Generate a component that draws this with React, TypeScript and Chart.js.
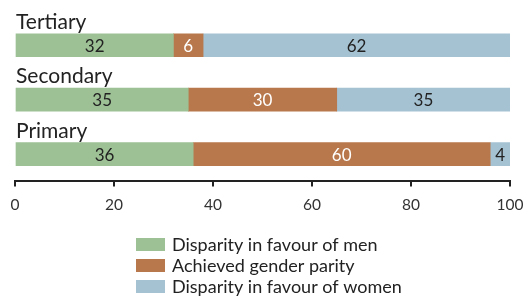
import React, { useEffect, useRef } from "react";
import { Chart, registerables } from "chart.js";

Chart.register(...registerables);

const categories = ["Tertiary", "Secondary", "Primary"];
const favourMen = [32, 35, 36];
const parity = [6, 30, 60];
const favourWomen = [62, 35, 4];
const seriesNames = [
  "Disparity in favour of men",
  "Achieved gender parity",
  "Disparity in favour of women",
];
const colors = ["#9dc095", "#b8784b", "#a5c2d3"];
const labelColors = ["#222222", "#ffffff", "#222222"];
const xTicks = [0, 20, 40, 60, 80, 100];

const FONT = "Lato, 'Noto Sans', sans-serif";

const labelsPlugin = {
  id: "customLabels",
  afterDatasetsDraw(chart: any) {
    const ctx = chart.ctx;
    ctx.save();
    const meta0 = chart.getDatasetMeta(0);
    ctx.font = `21px ${FONT}`;
    ctx.fillStyle = "#222222";
    ctx.textAlign = "left";
    ctx.textBaseline = "alphabetic";
    meta0.data.forEach((bar: any, i: number) => {
      const top = bar.y - bar.height / 2;
      ctx.fillText(categories[i], chart.chartArea.left + 1, top - 5);
    });
    ctx.font = `17px ${FONT}`;
    ctx.textAlign = "center";
    ctx.textBaseline = "middle";
    chart.data.datasets.forEach((ds: any, di: number) => {
      const meta = chart.getDatasetMeta(di);
      meta.data.forEach((bar: any, i: number) => {
        const v = ds.data[i];
        const left = Math.min(bar.x, bar.base);
        const right = Math.max(bar.x, bar.base);
        ctx.fillStyle = labelColors[di];
        ctx.fillText(String(v), (left + right) / 2, bar.y + 1);
      });
    });
    ctx.font = `18px ${FONT}`;
    ctx.textAlign = "left";
    ctx.textBaseline = "middle";
    seriesNames.forEach((name, i) => {
      const y = 238 + i * 21;
      ctx.fillStyle = colors[i];
      ctx.fillRect(136, y, 29, 13);
      ctx.fillStyle = "#222222";
      ctx.fillText(name, 172, y + 7);
    });
    ctx.restore();
  },
};

export default function App() {
  const ref = useRef<HTMLCanvasElement | null>(null);
  useEffect(() => {
    if (!ref.current) return;
    const chart = new Chart(ref.current, {
      type: "bar",
      data: {
        labels: categories,
        datasets: [favourMen, parity, favourWomen].map((d, i) => ({
          label: seriesNames[i],
          data: d,
          backgroundColor: colors[i],
          borderWidth: 0,
          barThickness: 23,
        })),
      },
      options: {
        indexAxis: "y",
        animation: false,
        responsive: false,
        maintainAspectRatio: false,
        layout: { padding: { left: 15, right: 14, top: 18, bottom: 73 } },
        plugins: {
          legend: { display: false },
          tooltip: { enabled: false },
        },
        scales: {
          x: {
            stacked: true,
            min: 0,
            max: 100,
            afterBuildTicks: (axis: any) => {
              axis.ticks = xTicks.map((v) => ({ value: v }));
            },
            afterFit: (axis: any) => {
              axis.paddingLeft = 0;
              axis.paddingRight = 0;
            },
            grid: {
              drawOnChartArea: false,
              drawTicks: true,
              tickLength: 5,
              color: "#222222",
              lineWidth: 2,
            },
            border: { display: true, color: "#222222", width: 2 },
            ticks: {
              color: "#333333",
              font: { family: FONT, size: 15.5 },
              padding: 9,
              maxRotation: 0,
            },
          },
          y: {
            stacked: true,
            display: false,
          },
        },
      },
      plugins: [labelsPlugin],
    });
    return () => chart.destroy();
  }, []);
  return (
    <div style={{ position: "absolute", left: 0, top: 0, width: 524, height: 296, background: "#fff" }}>
      <canvas ref={ref} width={524} height={296} style={{ width: 524, height: 296 }} />
    </div>
  );
}
